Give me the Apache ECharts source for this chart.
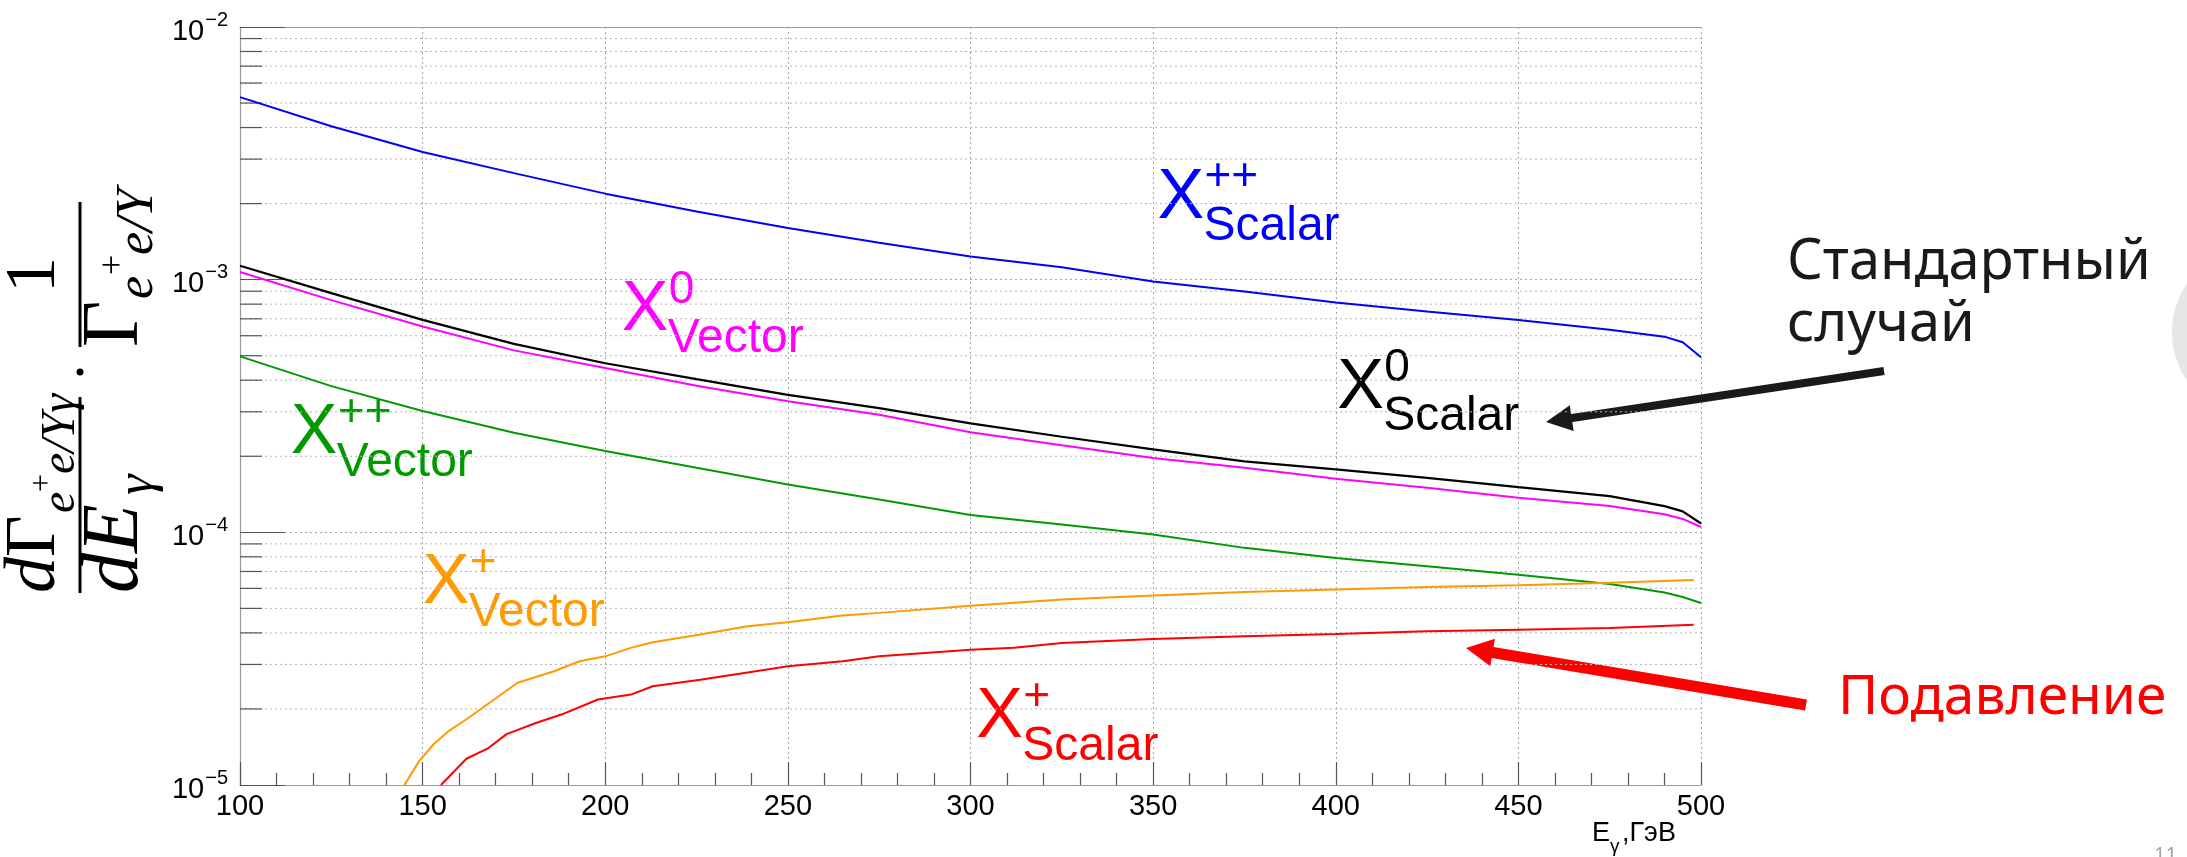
<!DOCTYPE html>
<html>
<head>
<meta charset="utf-8">
<script src="https://cdn.jsdelivr.net/npm/echarts@6/dist/echarts.min.js"></script>
<style>
html,body{margin:0;padding:0;background:#ffffff;}
#chart{width:2187px;height:857px;}
</style>
</head>
<body>
<div id="chart"></div>
<script>
// ---------------- data ----------------
const energy = [100, 125, 150, 175, 200, 225, 250, 275, 300, 325, 350, 375, 400, 425, 450, 475, 490, 495, 500];
const scalarDoublyCharged = [5.28e-3, 4.05e-3, 3.20e-3, 2.64e-3, 2.19e-3, 1.86e-3, 1.60e-3, 1.40e-3, 1.235e-3, 1.12e-3, 9.84e-4, 8.98e-4, 8.12e-4, 7.48e-4, 6.93e-4, 6.33e-4, 5.95e-4, 5.65e-4, 4.93e-4];
const scalarNeutral = [1.135e-3, 8.85e-4, 6.93e-4, 5.57e-4, 4.67e-4, 4.04e-4, 3.50e-4, 3.10e-4, 2.70e-4, 2.39e-4, 2.13e-4, 1.91e-4, 1.774e-4, 1.644e-4, 1.51e-4, 1.39e-4, 1.27e-4, 1.21e-4, 1.084e-4];
const vectorNeutral = [1.072e-3, 8.30e-4, 6.53e-4, 5.25e-4, 4.47e-4, 3.80e-4, 3.30e-4, 2.92e-4, 2.49e-4, 2.21e-4, 1.97e-4, 1.80e-4, 1.63e-4, 1.50e-4, 1.37e-4, 1.27e-4, 1.18e-4, 1.13e-4, 1.05e-4];
const vectorDoublyCharged = [4.97e-4, 3.79e-4, 3.02e-4, 2.48e-4, 2.10e-4, 1.80e-4, 1.545e-4, 1.348e-4, 1.17e-4, 1.074e-4, 9.80e-5, 8.68e-5, 7.92e-5, 7.34e-5, 6.80e-5, 6.25e-5, 5.78e-5, 5.55e-5, 5.25e-5];

const energyVectorSingly = [145, 149, 153, 157, 162, 167, 176, 186, 193, 200, 207, 213, 226, 239, 250, 265, 275, 300, 325, 350, 375, 400, 425, 450, 475, 498];
const vectorSinglyCharged = [1.0e-5, 1.24e-5, 1.45e-5, 1.63e-5, 1.82e-5, 2.05e-5, 2.54e-5, 2.82e-5, 3.09e-5, 3.23e-5, 3.49e-5, 3.67e-5, 3.94e-5, 4.25e-5, 4.41e-5, 4.69e-5, 4.80e-5, 5.12e-5, 5.42e-5, 5.62e-5, 5.80e-5, 5.94e-5, 6.07e-5, 6.18e-5, 6.31e-5, 6.47e-5];

const energyScalarSingly = [155, 162, 168, 173, 181, 188, 198, 207, 213, 226, 239, 250, 265, 275, 300, 312, 325, 350, 375, 400, 425, 450, 475, 498];
const scalarSinglyCharged = [1.0e-5, 1.27e-5, 1.40e-5, 1.59e-5, 1.76e-5, 1.90e-5, 2.18e-5, 2.28e-5, 2.46e-5, 2.61e-5, 2.79e-5, 2.95e-5, 3.09e-5, 3.23e-5, 3.43e-5, 3.49e-5, 3.65e-5, 3.78e-5, 3.88e-5, 3.96e-5, 4.06e-5, 4.12e-5, 4.18e-5, 4.31e-5];

const xTickValues = [100, 150, 200, 250, 300, 350, 400, 450, 500];
const yMinorTicks = [2e-5, 3e-5, 4e-5, 5e-5, 6e-5, 7e-5, 8e-5, 9e-5,
                     2e-4, 3e-4, 4e-4, 5e-4, 6e-4, 7e-4, 8e-4, 9e-4,
                     2e-3, 3e-3, 4e-3, 5e-3, 6e-3, 7e-3, 8e-3, 9e-3];

// label texts and their anchor points (data coordinates of the big "X" baseline-left)
const labelTexts = [
  { sup: '++', sub: 'Scalar', color: '#0000ff' },
  { sup: '0',  sub: 'Vector', color: '#ff00ff' },
  { sup: '0',  sub: 'Scalar', color: '#000000' },
  { sup: '++', sub: 'Vector', color: '#009a00' },
  { sup: '+',  sub: 'Vector', color: '#ff9a00' },
  { sup: '+',  sub: 'Scalar', color: '#ff0000' }
];
const labelAnchorX = [351.2, 204.5, 400.4, 113.9, 150.0, 301.6];
const labelAnchorY = [1.68e-3, 6.05e-4, 2.97e-4, 1.97e-4, 5.01e-5, 1.476e-5];

// ---------------- chart ----------------
const SANS = '"Liberation Sans", Arial, Helvetica, sans-serif';
const SERIF = '"Liberation Serif", "Times New Roman", serif';
const SLIDE = '"Noto Sans", "Open Sans", sans-serif';
const MID = 0.3465; // canvas "middle" baseline offset (em) above the alphabetic baseline

const chart = echarts.init(document.getElementById('chart'), null, { renderer: 'canvas' });

function pairs(xs, ys) { return xs.map((x, i) => [x, ys[i]]); }
function lineSeries(name, xs, ys, color, width) {
  return {
    name, type: 'line', data: pairs(xs, ys), showSymbol: false, symbol: 'none',
    lineStyle: { color, width: width || 2 }, itemStyle: { color }, clip: true, z: 5,
    animation: false, silent: true
  };
}

const dotted = { color: '#a6a6a6', width: 1, type: [2, 3] };

const option = {
  animation: false,
  backgroundColor: '#ffffff',
  grid: { left: 240, top: 27, width: 1461, height: 758, containLabel: false },
  xAxis: [{
    type: 'value', min: 100, max: 500, interval: 50,
    axisLine: { show: true, onZero: false, lineStyle: { color: '#9a9a9a', width: 1.2 } },
    axisTick: { show: true, inside: true, length: 23, lineStyle: { color: '#555', width: 1.2 } },
    minorTick: { show: true, splitNumber: 5, length: 12, lineStyle: { color: '#555', width: 1.2 } },
    splitLine: { show: true, lineStyle: dotted },
    axisLabel: { show: true, margin: 7, fontSize: 29, fontFamily: SANS, color: '#000',
      showMinLabel: true, showMaxLabel: true,
      formatter: v => (xTickValues.indexOf(v) >= 0 ? String(v) : '') }
  }, {
    type: 'value', min: 100, max: 500, position: 'top',
    axisLine: { show: true, lineStyle: { color: '#9a9a9a', width: 1.2 } },
    axisTick: { show: false }, axisLabel: { show: false }, splitLine: { show: false }
  }],
  yAxis: [{
    type: 'log', logBase: 10, min: 1e-5, max: 1e-2, splitNumber: 3,
    axisLine: { show: true, lineStyle: { color: '#9a9a9a', width: 1.2 } },
    axisTick: { show: true, inside: true, length: 45, lineStyle: { color: '#555', width: 1.2 } },
    splitLine: { show: true, lineStyle: dotted },
    axisLabel: {
      show: true, margin: 12, showMinLabel: true, showMaxLabel: true,
      fontSize: 29, fontFamily: SANS, color: '#000',
      formatter: v => '{b|10}{s|\u2212' + Math.round(-Math.log10(v)) + '}',
      rich: {
        b: { fontSize: 29, fontFamily: SANS, color: '#000', padding: [9, 0, 0, 0] },
        s: { fontSize: 20, fontFamily: SANS, color: '#000', verticalAlign: 'top', padding: [2, 0, 0, 1] }
      }
    }
  }],
  series: [
    lineSeries('X++ Scalar', energy, scalarDoublyCharged, '#0000ff', 2),
    lineSeries('X0 Vector', energy, vectorNeutral, '#ff00ff', 2),
    lineSeries('X0 Scalar', energy, scalarNeutral, '#000000', 2.2),
    lineSeries('X++ Vector', energy, vectorDoublyCharged, '#009a00', 2),
    lineSeries('X+ Vector', energyVectorSingly, vectorSinglyCharged, '#ff9a00', 2),
    lineSeries('X+ Scalar', energyScalarSingly, scalarSinglyCharged, '#ff0000', 2),
    {
      name: 'minor grid', type: 'custom', silent: true, z: 1, animation: false,
      data: yMinorTicks.map(v => [100, v]),
      encode: { x: 0, y: 1 },
      renderItem: function (params, api) {
        const v = api.value(1);
        const a = api.coord([100, v]);
        const b = api.coord([500, v]);
        return {
          type: 'group', children: [
            { type: 'line', shape: { x1: a[0], y1: a[1], x2: b[0], y2: b[1] },
              style: { stroke: '#b4b4b4', lineWidth: 1, lineDash: [2, 3] } },
            { type: 'line', shape: { x1: a[0], y1: a[1], x2: a[0] + 22, y2: a[1] },
              style: { stroke: '#555', lineWidth: 1.2 } }
          ]
        };
      }
    }
  ]
};
chart.setOption(option);

// ---------------- graphic overlay ----------------
function txt(x, baseline, text, size, opts) {
  return {
    type: 'text', x: x, y: baseline - MID * size, silent: true,
    style: Object.assign({ text: text, fontSize: size, fontFamily: SANS, fill: '#000',
      align: 'left', verticalAlign: 'middle' }, opts || {})
  };
}
function serif(x, baseline, text, size, italic) {
  return txt(x, baseline, text, size, { fontFamily: SERIF, fontStyle: italic ? 'italic' : 'normal' });
}
function arrow(x1, y1, x2, y2, w, hl, hw, color) {
  const dx = x2 - x1, dy = y2 - y1, L = Math.hypot(dx, dy);
  const ux = dx / L, uy = dy / L, px = -uy, py = ux;
  const bx = x2 - ux * hl, by = y2 - uy * hl;
  return [
    { type: 'line', silent: true, shape: { x1: x1, y1: y1, x2: bx + ux * 3, y2: by + uy * 3 },
      style: { stroke: color, lineWidth: w, lineCap: 'butt' } },
    { type: 'polygon', silent: true,
      shape: { points: [[x2, y2], [bx + px * hw, by + py * hw], [bx - px * hw, by - py * hw]] },
      style: { fill: color } }
  ];
}

const graphics = [];

// curve labels, anchored in data coordinates
labelTexts.forEach((L, i) => {
  const p = chart.convertToPixel({ seriesIndex: 0 }, [labelAnchorX[i], labelAnchorY[i]]);
  graphics.push(txt(p[0], p[1], 'X', 70, { fill: L.color }));
  graphics.push(txt(p[0] + 47, p[1] - 29, L.sup, 46, { fill: L.color }));
  graphics.push(txt(p[0] + 46, p[1] + 21, L.sub, 48, { fill: L.color }));
});

// y-axis title (rotated, reads bottom-to-top)
const yTitle = {
  type: 'group', x: 80, y: 593, rotation: Math.PI / 2, silent: true,
  children: [
    { type: 'line', shape: { x1: 0, y1: 0, x2: 196, y2: 0 }, style: { stroke: '#000', lineWidth: 3 } },
    serif(0, -20, 'd', 72, true),
    serif(36, -20, '\u0393', 72, false),
    serif(80, -2, 'e', 48, true),
    serif(101, -26, '+', 32, false),
    serif(119, -2, 'e/Y\u03b3', 48, true),
    serif(0, 64, 'd', 80, true),
    serif(40, 64, 'E', 80, true),
    serif(98, 76, '\u03b3', 52, true),
    { type: 'circle', shape: { cx: 221, cy: 0, r: 3.5 }, style: { fill: '#000' } },
    { type: 'line', shape: { x1: 246, y1: 0, x2: 391, y2: 0 }, style: { stroke: '#000', lineWidth: 3 } },
    txt(318, -20, '1', 72, { fontFamily: SERIF, align: 'center' }),
    serif(246, 64, '\u0393', 80, false),
    serif(294, 76, 'e', 52, true),
    serif(318, 46, '+', 36, false),
    serif(338, 76, 'e/Y', 52, true)
  ]
};
graphics.push(yTitle);

// x-axis title
graphics.push(txt(1592, 843, 'E', 27));
graphics.push(txt(1610, 853, '\u03b3', 19));
graphics.push(txt(1622, 843, ',\u0413\u044d\u0412', 27));

// slide decorations
graphics.push({ type: 'circle', silent: true, shape: { cx: 2258, cy: 332, r: 86 }, style: { fill: '#e4e5e7' } });
graphics.push(txt(1787, 282, '\u0421\u0442\u0430\u043d\u0434\u0430\u0440\u0442\u043d\u044b\u0439', 56, { fontFamily: SLIDE, fill: '#1a1a1a' }));
graphics.push(txt(1787, 344, '\u0441\u043b\u0443\u0447\u0430\u0439', 56, { fontFamily: SLIDE, fill: '#1a1a1a' }));
graphics.push(txt(1838, 717, '\u041f\u043e\u0434\u0430\u0432\u043b\u0435\u043d\u0438\u0435', 55, { fontFamily: SLIDE, fill: '#ff0000' }));
graphics.push(txt(2154, 862, '11', 20, { fontFamily: SLIDE, fill: '#a0a0a0' }));
arrow(1884, 371, 1546, 422, 8, 26, 13, '#1a1a1a').forEach(g => graphics.push(g));
arrow(1806, 705, 1466, 648, 11, 27, 14, '#ff0000').forEach(g => graphics.push(g));

chart.setOption({ graphic: graphics });
</script>
</body>
</html>
